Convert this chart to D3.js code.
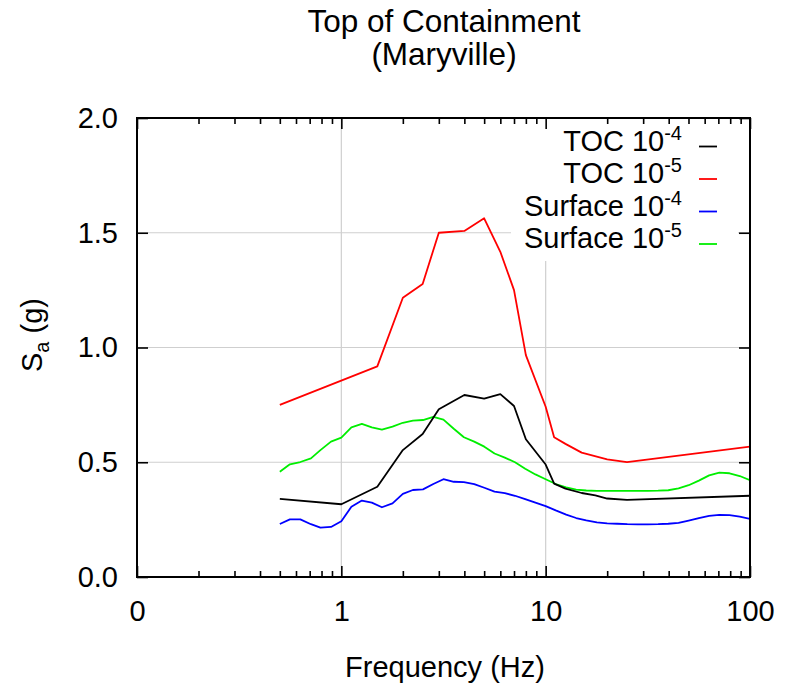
<!DOCTYPE html>
<html><head><meta charset="utf-8">
<script src="https://cdn.jsdelivr.net/npm/d3@7"></script>
<style>body{margin:0;background:#fff}svg{display:block}text{font-family:"Liberation Sans",Arial,Helvetica,sans-serif;fill:#000}</style>
</head><body><svg id="c" width="792" height="685"></svg>
<script>
// ---- data ----
const seriesNames = ["TOC 10", "TOC 10", "Surface 10", "Surface 10"];
const seriesExps = ["-4", "-5", "-4", "-5"];
const seriesColors = ["#000000", "#ff0000", "#0000ff", "#00ee00"];

const tocFreq = [0.5, 1, 1.5, 2, 2.5, 3, 4, 5, 6, 7, 8, 10, 11, 12.5, 15, 17.5, 20, 25, 100];
const toc4 = [0.340, 0.317, 0.393, 0.553, 0.623, 0.731, 0.793, 0.777, 0.797, 0.745, 0.600, 0.490, 0.407, 0.385, 0.366, 0.356, 0.342, 0.336, 0.354];
const toc5Freq = [0.5, 1.5, 2, 2.5, 3, 4, 5, 6, 7, 8, 10, 11, 12.5, 15, 20, 25, 100];
const toc5 = [0.750, 0.918, 1.217, 1.277, 1.500, 1.508, 1.563, 1.417, 1.250, 0.967, 0.742, 0.609, 0.580, 0.542, 0.513, 0.501, 0.568];

const surfFreq = [0.5, 0.56, 0.63, 0.71, 0.79, 0.89, 1.0, 1.12, 1.26, 1.41, 1.58, 1.78, 2.0, 2.24, 2.51, 2.82, 3.16, 3.55, 3.98, 4.47, 5.01, 5.62, 6.31, 7.08, 7.94, 8.91, 10, 11.2, 12.6, 14.1, 15.8, 17.8, 20, 22.4, 25.1, 28.2, 31.6, 35.5, 39.8, 44.7, 50.1, 56.2, 63.1, 70.8, 79.4, 89.1, 100];
const surf4 = [0.231, 0.251, 0.251, 0.230, 0.215, 0.218, 0.243, 0.306, 0.333, 0.324, 0.304, 0.321, 0.362, 0.379, 0.382, 0.405, 0.426, 0.415, 0.413, 0.405, 0.389, 0.372, 0.365, 0.354, 0.339, 0.324, 0.309, 0.290, 0.272, 0.257, 0.247, 0.238, 0.234, 0.232, 0.230, 0.229, 0.229, 0.230, 0.232, 0.236, 0.246, 0.257, 0.266, 0.271, 0.270, 0.263, 0.253];
const surf5 = [0.459, 0.491, 0.501, 0.517, 0.553, 0.590, 0.607, 0.652, 0.667, 0.652, 0.642, 0.655, 0.672, 0.681, 0.684, 0.698, 0.686, 0.646, 0.609, 0.590, 0.568, 0.538, 0.520, 0.500, 0.472, 0.447, 0.426, 0.405, 0.391, 0.381, 0.377, 0.375, 0.375, 0.375, 0.375, 0.375, 0.375, 0.376, 0.378, 0.386, 0.400, 0.420, 0.443, 0.455, 0.452, 0.440, 0.422];

const xMajor = [0.1, 1, 10, 100];
const xTickLabels = ["0", "1", "10", "100"];
const xMinor = [0.2, 0.3, 0.4, 0.5, 0.6, 0.7, 0.8, 0.9, 2, 3, 4, 5, 6, 7, 8, 9, 20, 30, 40, 50, 60, 70, 80, 90];
const yTicks = [0, 0.5, 1.0, 1.5, 2.0];
const yTickLabels = ["0.0", "0.5", "1.0", "1.5", "2.0"];
const xGrid = [1, 10];
const yGrid = [0.5, 1.0, 1.5];

// ---- chart ----
const L = 137, R = 750, T = 118, B = 577;
const svg = d3.select("#c");
const x = d3.scaleLog().domain([0.1, 100]).range([L, R]);
const y = d3.scaleLinear().domain([0, 2]).range([B, T]);
const FS = 29;

svg.append("defs").append("clipPath").attr("id", "pc")
  .append("rect").attr("x", L).attr("y", T).attr("width", R - L).attr("height", B - T);

// grid
const g = svg.append("g").attr("stroke", "#cfcfcf").attr("stroke-width", 1.2);
g.selectAll(".gx").data(xGrid).join("line")
  .attr("x1", d => x(d)).attr("x2", d => x(d)).attr("y1", T).attr("y2", B);
g.selectAll(".gy").data(yGrid).join("line")
  .attr("y1", d => y(d)).attr("y2", d => y(d)).attr("x1", L).attr("x2", R);

// series
const series = [
  {f: tocFreq, v: toc4},
  {f: toc5Freq, v: toc5},
  {f: surfFreq, v: surf4},
  {f: surfFreq, v: surf5}
];
const line = d3.line().x(d => x(d[0])).y(d => y(d[1]));
const pg = svg.append("g").attr("clip-path", "url(#pc)");
[2, 3, 0, 1].forEach(i => {
  const s = series[i];
  pg.append("path").datum(s.f.map((f, k) => [f, s.v[k]]))
    .attr("fill", "none").attr("stroke", seriesColors[i])
    .attr("stroke-width", 1.8).attr("stroke-linejoin", "round")
    .attr("d", line);
});

// legend
svg.append("rect").attr("x", 511).attr("y", T + 1).attr("width", 227).attr("height", 142).attr("fill", "#fff");
const lg = svg.append("g");
seriesNames.forEach((n, i) => {
  const ly = 146.5 + i * 32.5;
  const t = lg.append("text").attr("x", 682).attr("y", ly + 4).attr("text-anchor", "end")
    .attr("font-size", FS);
  t.append("tspan").text(n);
  t.append("tspan").attr("font-size", 20).attr("dy", -11).text(seriesExps[i]);
  lg.append("line").attr("x1", 699).attr("x2", 717).attr("y1", ly).attr("y2", ly)
    .attr("stroke", seriesColors[i]).attr("stroke-width", 1.8);
});

// axes
function styleAxis(sel) {
  sel.select(".domain").remove();
  sel.selectAll("line").attr("stroke", "#000").attr("stroke-width", 1.6);
  sel.selectAll("text").attr("font-size", FS).attr("fill", "#000")
    .attr("font-family", '"Liberation Sans",Arial,Helvetica,sans-serif');
}
svg.append("g").attr("transform", `translate(0,${B})`)
  .call(d3.axisBottom(x).tickValues(xMajor).tickSize(-11).tickPadding(23)
    .tickFormat((d, i) => xTickLabels[i])).call(styleAxis);
svg.append("g").attr("transform", `translate(0,${B})`)
  .call(d3.axisBottom(x).tickValues(xMinor).tickSize(-6).tickFormat("")).call(styleAxis);
svg.append("g").attr("transform", `translate(0,${T})`)
  .call(d3.axisTop(x).tickValues(xMajor).tickSize(-11).tickFormat("")).call(styleAxis);
svg.append("g").attr("transform", `translate(0,${T})`)
  .call(d3.axisTop(x).tickValues(xMinor).tickSize(-6).tickFormat("")).call(styleAxis);
svg.append("g").attr("transform", `translate(${L},0)`)
  .call(d3.axisLeft(y).tickValues(yTicks).tickSize(-11).tickPadding(19)
    .tickFormat((d, i) => yTickLabels[i])).call(styleAxis);
svg.append("g").attr("transform", `translate(${R},0)`)
  .call(d3.axisRight(y).tickValues(yTicks).tickSize(-11).tickFormat("")).call(styleAxis);

// frame
svg.append("rect").attr("x", L).attr("y", T).attr("width", R - L).attr("height", B - T)
  .attr("fill", "none").attr("stroke", "#000").attr("stroke-width", 2);

// titles
svg.append("text").attr("x", 444).attr("y", 32).attr("text-anchor", "middle").attr("font-size", 31.5)
  .text("Top of Containment");
svg.append("text").attr("x", 444).attr("y", 65).attr("text-anchor", "middle").attr("font-size", 31.5)
  .text("(Maryville)");
svg.append("text").attr("x", 445).attr("y", 677).attr("text-anchor", "middle").attr("font-size", FS)
  .text("Frequency (Hz)");
const yl = svg.append("text").attr("transform", "translate(42,335) rotate(-90)")
  .attr("text-anchor", "middle").attr("font-size", FS);
yl.append("tspan").text("S");
yl.append("tspan").attr("font-size", 20).attr("dy", 7).text("a");
yl.append("tspan").attr("dy", -7).text(" (g)");
</script></body></html>
